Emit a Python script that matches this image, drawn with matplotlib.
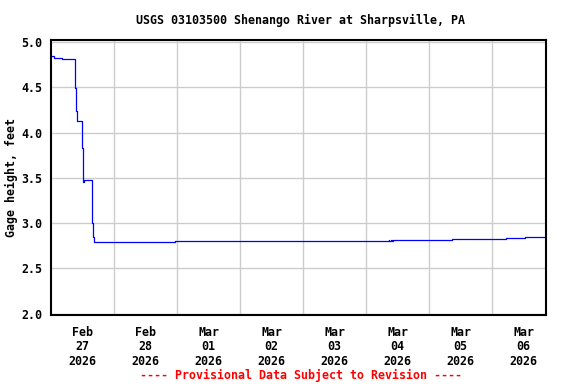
import matplotlib
matplotlib.use('Agg')
import matplotlib.pyplot as plt

# Gage height readings, time in days since Feb 27 2026 00:00 (step-wise record)
days = [0.00, 0.05, 0.17, 0.26, 0.38, 0.385, 0.39, 0.42, 0.495, 0.50, 0.515,
        0.53, 0.55, 0.645, 0.655, 0.67, 0.69, 1.97, 5.36, 5.37, 5.39, 5.41,
        5.43, 6.37, 6.39, 6.41, 6.43, 6.50, 6.99, 7.23, 7.52, 7.85]
gage_ft = [4.85, 4.83, 4.82, 4.81, 4.80, 4.49, 4.24, 4.13, 3.83, 3.51, 3.46,
           3.48, 3.48, 3.48, 3.00, 2.85, 2.79, 2.80, 2.81, 2.80, 2.81, 2.80,
           2.81, 2.82, 2.83, 2.82, 2.83, 2.82, 2.82, 2.84, 2.85, 2.86]

tick_labels = ['Feb\n27\n2026', 'Feb\n28\n2026', 'Mar\n01\n2026', 'Mar\n02\n2026',
               'Mar\n03\n2026', 'Mar\n04\n2026', 'Mar\n05\n2026', 'Mar\n06\n2026']
y_ticks = [2.0, 2.5, 3.0, 3.5, 4.0, 4.5, 5.0]

FONT = 'DejaVu Sans Mono'
FS = 8.4

fig = plt.figure(figsize=(5.76, 3.84), dpi=100)
ax = fig.add_axes([51/576, 1 - 315/384, 495/576, 275/384])

ax.plot(days, gage_ft, color='#0000ff', linewidth=0.9, drawstyle='steps-post')

ax.set_xlim(0, 495/63)
ax.set_ylim(1.985, 5.025)

# day labels at noon, grid lines at midnight
ax.set_xticks([i + 0.5 for i in range(len(tick_labels))])
ax.set_xticklabels(tick_labels, fontfamily=FONT, fontweight='bold', fontsize=FS,
                   linespacing=1.12)
ax.set_xticks(list(range(1, len(tick_labels))), minor=True)
ax.set_yticks(y_ticks)
ax.set_yticklabels([f'{v:.1f}' for v in y_ticks], fontfamily=FONT,
                   fontweight='bold', fontsize=FS)
ax.tick_params(axis='both', which='both', length=0)
ax.tick_params(axis='x', pad=8)
ax.tick_params(axis='y', pad=6)
ax.grid(True, which='minor', axis='x', color='#cccccc', linewidth=1)
ax.grid(True, which='major', axis='y', color='#cccccc', linewidth=1)
ax.set_axisbelow(True)
for s in ax.spines.values():
    s.set_linewidth(1.5)
    s.set_color('black')

ax.set_ylabel('Gage height, feet', fontfamily=FONT, fontweight='bold', fontsize=FS)
ax.yaxis.set_label_coords(-0.067, 0.5)

fig.text(301/576, 1 - 20.5/384, 'USGS 03103500 Shenango River at Sharpsville, PA',
         ha='center', va='center', fontfamily=FONT, fontweight='bold', fontsize=FS)
fig.text(301/576, 1 - 375/384, '---- Provisional Data Subject to Revision ----',
         ha='center', va='center', fontfamily=FONT, fontweight='bold', fontsize=FS,
         color='#ff0000')

plt.savefig('out.png', dpi=100, facecolor='white')
plt.close()
